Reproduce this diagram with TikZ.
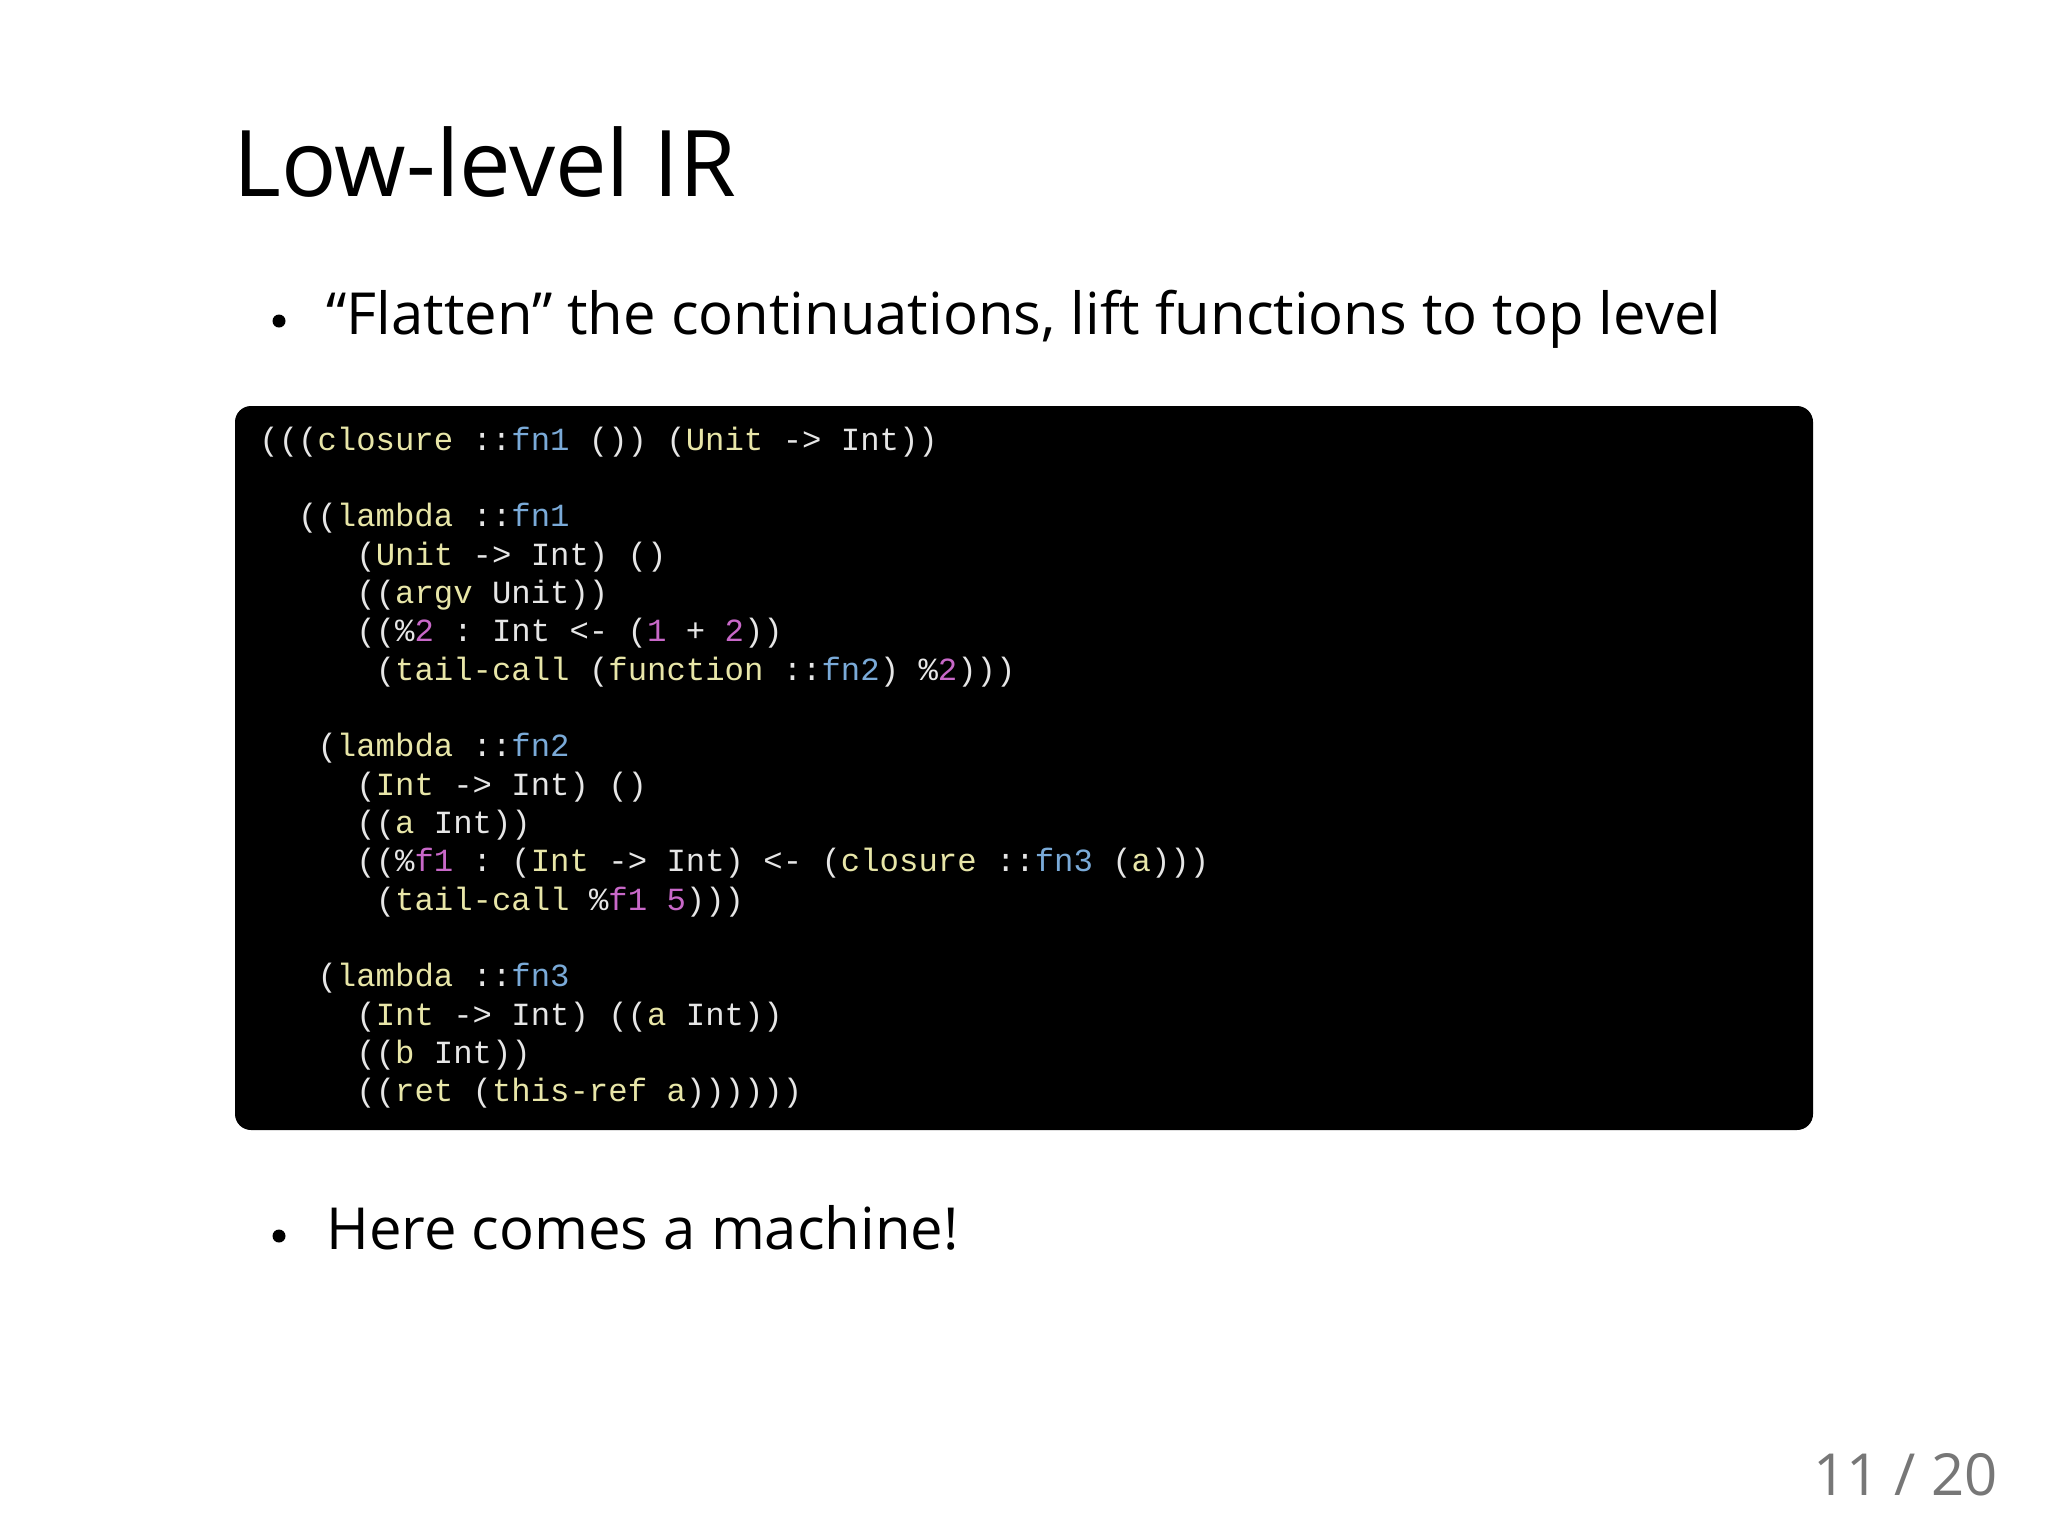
\documentclass[tikz,border=0pt]{standalone}
\usepackage{fontspec}
\setmainfont{Open Sans}
\setmonofont{Liberation Mono}
\definecolor{kw}{HTML}{E8E6A8}
\definecolor{fnc}{HTML}{7AAAD8}
\definecolor{nm}{HTML}{C868C8}
\definecolor{pl}{HTML}{E6E6E6}
\definecolor{pg}{HTML}{777777}
\newcommand{\K}[1]{\textcolor{kw}{#1}}
\newcommand{\F}[1]{\textcolor{fnc}{#1}}
\newcommand{\N}[1]{\textcolor{nm}{#1}}
\begin{document}
\begin{tikzpicture}[x=0.5pt,y=-0.5pt,
  code/.style={anchor=base west,inner sep=0pt,text=pl,font=\ttfamily\fontsize{16.15}{19}\selectfont}]
\useasboundingbox (0,0) rectangle (2048,1537);
\fill[white] (0,0) rectangle (2048,1537);
\node[anchor=base west,inner sep=0pt,font=\fontsize{46}{50}\selectfont] (title) at (233,196) {Low-level IR};
\node[anchor=base west,inner sep=0pt,font=\fontsize{29}{34}\selectfont] (b1) at (326,334) {“Flatten” the continuations, lift functions to top level};
\fill (279,321) circle (6.5) coordinate (d1);
\fill[black, rounded corners=8] (235,406) rectangle (1813,1130);
\node[anchor=base west,inner sep=0pt,font=\fontsize{29}{34}\selectfont] (b2) at (326,1249) {Here comes a machine!};
\fill (279,1236) circle (6.5) coordinate (d2);
\node[anchor=base east,inner sep=0pt,text=pg,font=\fontsize{29}{34}\selectfont] (pn) at (1998,1495) {11 / 20};
\def\cw{19.4}
\def\L#1#2#3{\node[code] at ({259+#2*\cw},{450+#1*38.35}) {#3};}
\L{0}{0}{(((\K{closure} ::\F{fn1} ()) (\K{Unit} -> Int))}
\L{2}{2}{((\K{lambda} ::\F{fn1}}
\L{3}{5}{(\K{Unit} -> Int) ()}
\L{4}{5}{((\K{argv} Unit))}
\L{5}{5}{((\%\N{2} : Int <- (\N{1} + \N{2}))}
\L{6}{6}{(\K{tail-call} (\K{function} ::\F{fn2}) \%\N{2})))}
\L{8}{3}{(\K{lambda} ::\F{fn2}}
\L{9}{5}{(\K{Int} -> Int) ()}
\L{10}{5}{((\K{a} Int))}
\L{11}{5}{((\%\N{f1} : (\K{Int} -> Int) <- (\K{closure} ::\F{fn3} (\K{a})))}
\L{12}{6}{(\K{tail-call} \%\N{f1} \N{5})))}
\L{14}{3}{(\K{lambda} ::\F{fn3}}
\L{15}{5}{(\K{Int} -> Int) ((\K{a} Int))}
\L{16}{5}{((\K{b} Int))}
\L{17}{5}{((\K{ret} (\K{this-ref} \K{a}))))))}
\end{tikzpicture}
\end{document}
